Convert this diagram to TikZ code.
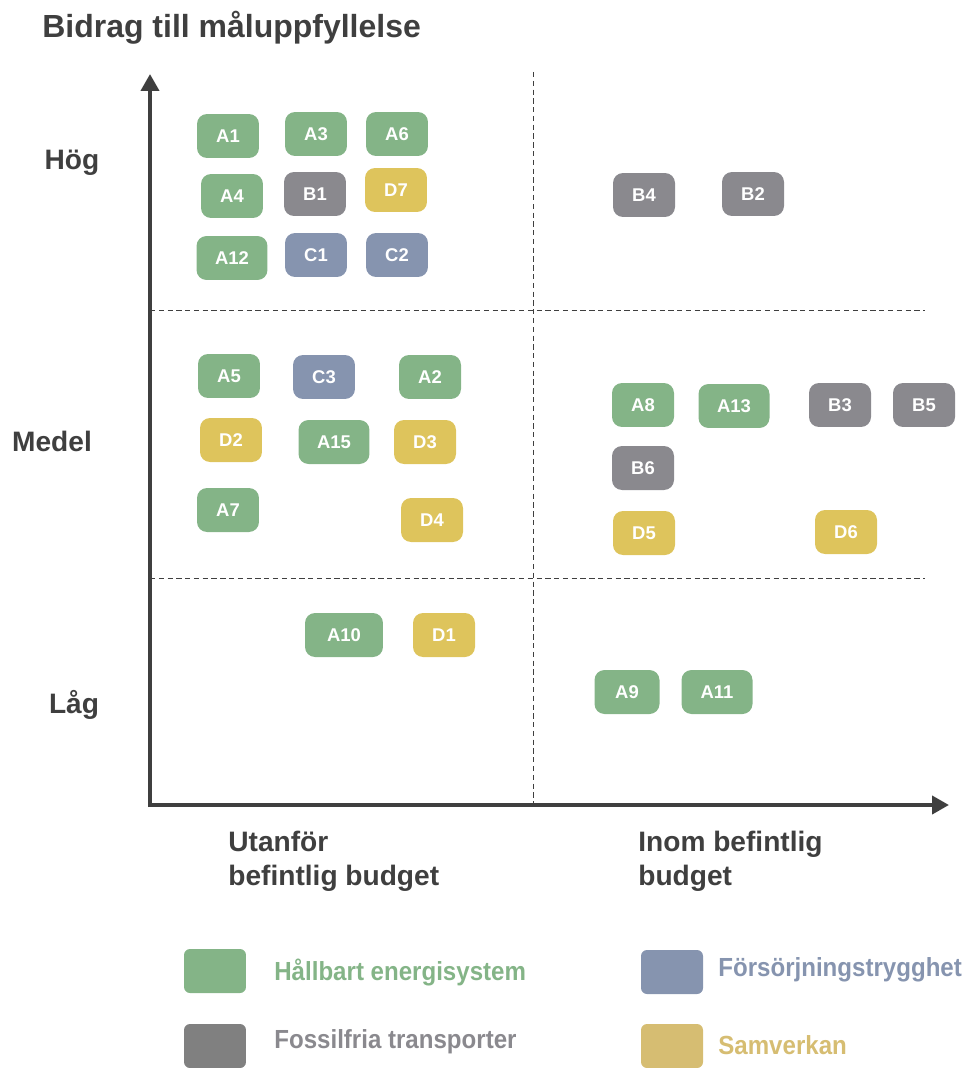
\documentclass[tikz,border=0pt]{standalone}
\usepackage{fontspec}
\setmainfont{Liberation Sans}
\newfontfamily\narrowfont[FakeStretch=0.92]{Liberation Sans}
\usetikzlibrary{arrows.meta}
\definecolor{gron}{HTML}{84B487}
\definecolor{gra}{HTML}{8A898E}
\definecolor{bla}{HTML}{8694AF}
\definecolor{gul}{HTML}{DEC45C}
\definecolor{legra}{HTML}{808080}
\definecolor{legul}{HTML}{D6BD72}
\definecolor{mork}{HTML}{3F3F3F}

\begin{document}
\begin{tikzpicture}[x=0.02cm,y=-0.02cm]
\tikzset{
  box/.style={rounded corners=0.2cm, minimum width=1.24cm, minimum height=0.88cm,
    inner sep=0pt, text=white, font=\bfseries\fontsize{10.5}{11}\selectfont},
  wide/.style={minimum width=1.42cm},
  hb/.style={box, fill=gron},
  ft/.style={box, fill=gra},
  fs/.style={box, fill=bla},
  sv/.style={box, fill=gul},
  axel/.style={draw=mork, line width=0.08cm, -{Triangle[width=0.36cm,length=0.34cm]}},
  grans/.style={draw=mork, densely dashed, line width=0.4pt},
  rubrik/.style={text=mork, font=\bfseries\fontsize{16}{19.5}\selectfont, inner sep=0pt},
  leg/.style={rounded corners=0.12cm, minimum width=1.24cm, minimum height=0.88cm, inner sep=0pt},
  legtext/.style={font=\narrowfont\bfseries\fontsize{14.9}{17}\selectfont, anchor=west, inner sep=0pt}
}
\useasboundingbox (0,0) rectangle (966,1068);

% title
\node[rubrik, anchor=west, font=\bfseries\fontsize{18.2}{21}\selectfont] (titel) at (42,28) {Bidrag till måluppfyllelse};

% axes and quadrant lines
\coordinate (origo) at (150,805);
\coordinate (ytop) at (150,74);
\coordinate (xend) at (949,805);
\draw[grans] (533,72) -- (533,805);
\draw[grans] (150,310) -- (925,310);
\draw[grans] (150,578) -- (925,578);
\draw[axel] (150,807) -- (ytop);
\draw[axel] (148,805) -- (xend);

% axis labels
\node[rubrik] (hog) at (72,163) {Hög};
\node[rubrik] (medel) at (52,441) {Medel};
\node[rubrik] (lag) at (74,705) {Låg};
\node[rubrik, anchor=north west, align=left] (utanfor) at (228,831) {Utanför\\befintlig budget};
\node[rubrik, anchor=north west, align=left] (inom) at (638,831) {Inom befintlig\\budget};

% hog
\node[hb] (a1) at (228,136) {A1};
\node[hb] (a3) at (316,134) {A3};
\node[hb] (a6) at (397,134) {A6};
\node[hb] (a4) at (232,196) {A4};
\node[ft] (b1) at (315,194) {B1};
\node[sv] (d7) at (396,190) {D7};
\node[hb, wide] (a12) at (232,258) {A12};
\node[fs] (c1) at (316,255) {C1};
\node[fs] (c2) at (397,255) {C2};
\node[ft] (b4) at (644,195) {B4};
\node[ft] (b2) at (753,194) {B2};

% medel
\node[hb] (a5) at (229,376) {A5};
\node[fs] (c3) at (324,377) {C3};
\node[hb] (a2) at (430,377) {A2};
\node[sv] (d2) at (231,440) {D2};
\node[hb, wide] (a15) at (334,442) {A15};
\node[sv] (d3) at (425,442) {D3};
\node[hb] (a7) at (228,510) {A7};
\node[sv] (d4) at (432,520) {D4};
\node[hb] (a8) at (643,405) {A8};
\node[hb, wide] (a13) at (734,406) {A13};
\node[ft] (b3) at (840,405) {B3};
\node[ft] (b5) at (924,405) {B5};
\node[ft] (b6) at (643,468) {B6};
\node[sv] (d5) at (644,533) {D5};
\node[sv] (d6) at (846,532) {D6};

% lag
\node[hb, minimum width=1.56cm] (a10) at (344,635) {A10};
\node[sv] (d1) at (444,635) {D1};
\node[hb, minimum width=1.3cm] (a9) at (627,692) {A9};
\node[hb, wide] (a11) at (717,692) {A11};

% legend
\node[leg, fill=gron] (lhb) at (215,971) {};
\node[legtext, text=gron] (thb) at (274,972) {Hållbart energisystem};
\node[leg, fill=legra] (lft) at (215,1046) {};
\node[legtext, text=gra] (tft) at (274,1042) {Fossilfria transporter};
\node[leg, fill=bla] (lfs) at (672,972) {};
\node[legtext, text=bla] (tfs) at (718,970) {Försörjningstrygghet};
\node[leg, fill=legul] (lsv) at (672,1046) {};
\node[legtext, text=legul] (tsv) at (718,1045) {Samverkan};
\end{tikzpicture}
\end{document}
